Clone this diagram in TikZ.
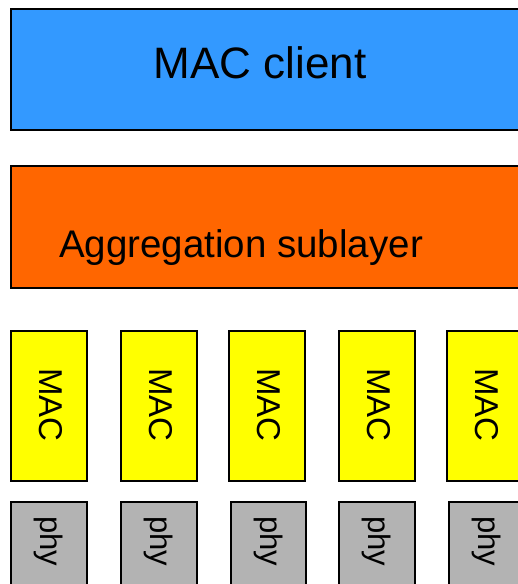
\documentclass[tikz,border=0pt]{standalone}
\usepackage{fontspec}
\setmainfont{Liberation Sans}
\definecolor{clientblue}{HTML}{3399FF}
\definecolor{aggorange}{HTML}{FF6600}
\definecolor{macyellow}{HTML}{FFFF00}
\definecolor{phygray}{HTML}{B3B3B3}
\tikzset{
  layerbox/.style={draw=black, line width=1.6pt, rectangle, inner sep=0pt, outer sep=0pt},
  macbox/.style={layerbox, fill=macyellow, minimum width=76pt, minimum height=150pt},
  phybox/.style={layerbox, fill=phygray, minimum height=100pt},
  vlabel/.style={rotate=-90, inner sep=0pt, text=black},
}
\begin{document}
\begin{tikzpicture}[x=1pt, y=-1pt]
  \useasboundingbox (0,0) rectangle (518,584);
  \clip (0,0) rectangle (518,584);
  \fill[white] (0,0) rectangle (518,584);

  % upper layers
  \node[layerbox, fill=clientblue, minimum width=529pt, minimum height=121pt] (client) at (275.5,69.5) {};
  \node[anchor=base, inner sep=0pt, font=\fontsize{44}{48}\selectfont] (clienttext) at (260,78) {MAC client};

  \node[layerbox, fill=aggorange, minimum width=529pt, minimum height=122pt] (agg) at (275.5,227) {};
  \node[anchor=base, inner sep=0pt, font=\fontsize{38.5}{42}\selectfont] (aggtext) at (241,257) {Aggregation sublayer};

  % one MAC and one phy per link
  \foreach \i/\mx/\px/\pw in {1/11/11/76, 2/121/121/76, 3/229/231/75, 4/339/339/76, 5/447/449/76} {
    \node[macbox] (mac\i) at ({\mx+38},406) {};
    \node[vlabel, font=\fontsize{33}{36}\selectfont] (mactext\i) at ({\mx+39.5},405) {MAC};
    \node[phybox, minimum width=\pw pt] (phy\i) at ({\px+\pw/2},552) {};
    \node[vlabel, font=\fontsize{31}{34}\selectfont] (phytext\i) at ({\px+\pw/2},541) {phy};
  }
\end{tikzpicture}
\end{document}
